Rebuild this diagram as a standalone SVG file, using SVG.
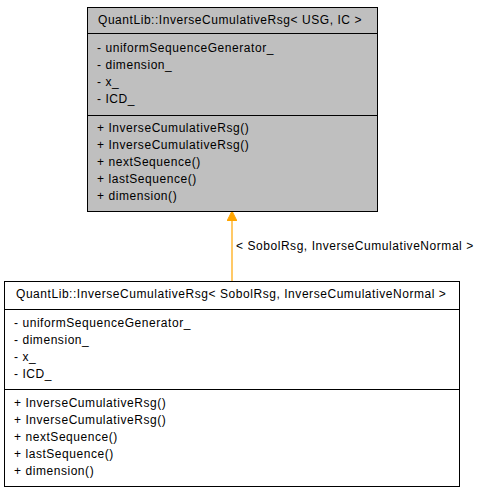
<svg xmlns="http://www.w3.org/2000/svg" width="483" height="493" viewBox="0 0 483 493">
<style>
text{font-family:"Liberation Sans",Arial,sans-serif;font-size:12px;letter-spacing:0.55px;fill:#000}
.box{stroke:#000;stroke-width:1}
</style>
<defs>
<marker id="ah" markerWidth="10" markerHeight="10" refX="9" refY="5" orient="auto" markerUnits="userSpaceOnUse">
<path d="M0,0 L10,5 L0,10 Z" fill="#FFA500" stroke="#FFA500"/>
</marker>
</defs>
<rect width="483" height="493" fill="#fff"/>
<g id="connectors">
<line x1="232" y1="281" x2="232" y2="212" stroke="#FFA500" stroke-width="1.2" marker-end="url(#ah)"/>
<text x="236" y="250">&lt; SobolRsg, InverseCumulativeNormal &gt;</text>
</g>
<g id="base">
<rect class="box" x="87.5" y="7.5" width="290" height="204" fill="#bfbfbf"/>
<line class="box" x1="87.5" y1="33.5" x2="377.5" y2="33.5"/>
<line class="box" x1="87.5" y1="115.5" x2="377.5" y2="115.5"/>
<text x="98" y="24">QuantLib::InverseCumulativeRsg&lt; USG, IC &gt;</text>
<text x="97" y="52">- uniformSequenceGenerator_</text>
<text x="97" y="69">- dimension_</text>
<text x="97" y="86">- x_</text>
<text x="97" y="103">- ICD_</text>
<text x="97" y="132">+ InverseCumulativeRsg()</text>
<text x="97" y="149">+ InverseCumulativeRsg()</text>
<text x="97" y="166">+ nextSequence()</text>
<text x="97" y="183">+ lastSequence()</text>
<text x="97" y="200">+ dimension()</text>
</g>
<g id="derived">
<rect class="box" x="4.5" y="281.5" width="455" height="205" fill="#fff"/>
<line class="box" x1="4.5" y1="309.5" x2="459.5" y2="309.5"/>
<line class="box" x1="4.5" y1="389.5" x2="459.5" y2="389.5"/>
<text x="16" y="298">QuantLib::InverseCumulativeRsg&lt; SobolRsg, InverseCumulativeNormal &gt;</text>
<text x="14" y="327">- uniformSequenceGenerator_</text>
<text x="14" y="344">- dimension_</text>
<text x="14" y="361">- x_</text>
<text x="14" y="378">- ICD_</text>
<text x="14" y="407">+ InverseCumulativeRsg()</text>
<text x="14" y="424">+ InverseCumulativeRsg()</text>
<text x="14" y="441">+ nextSequence()</text>
<text x="14" y="458">+ lastSequence()</text>
<text x="14" y="475">+ dimension()</text>
</g>
</svg>
